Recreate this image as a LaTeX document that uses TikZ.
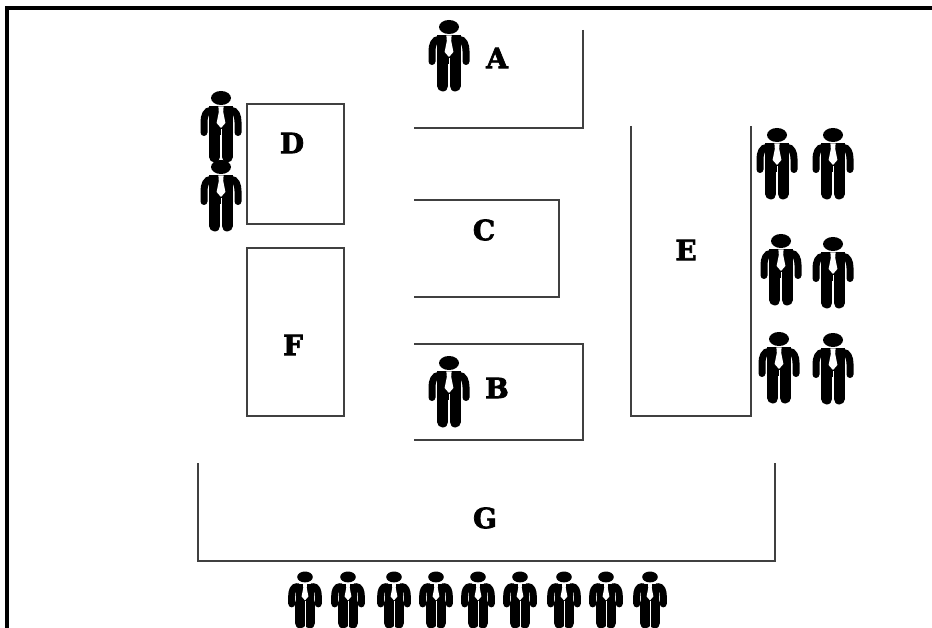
\documentclass[tikz,border=0pt]{standalone}
\usepackage{fontspec}
\setmainfont{DejaVu Serif}
\newfontfamily\labfont[BoldFont=* Bold,BoldFeatures={FakeBold=2.5}]{DejaVu Serif}
\tikzset{
  x=1pt,y=-1pt,
  frameline/.style={black,line width=3.2pt},
  wall/.style={draw=black!75,line width=1.4pt},
  lab/.style={font=\fontsize{28}{28}\labfont\bfseries,text=black,inner sep=0pt},
  person/.pic={
    \fill[black] (0,7) ellipse [x radius=10,y radius=7];
    % shoulders and torso
    \fill[black] (-12,15.5) -- (12,15.5) -- (12,44) -- (-12,44) -- cycle;
    % arms
    \draw[black,line width=7pt,line cap=round] (-10,19.3) .. controls (-15,19.5) and (-17,25) .. (-17,31) -- (-17,41.5);
    \draw[black,line width=7pt,line cap=round] (10,19.3) .. controls (15,19.5) and (17,25) .. (17,31) -- (17,41.5);
    % legs
    \draw[black,line width=11pt,line cap=round] (-6.1,40) -- (-6.1,66);
    \draw[black,line width=11pt,line cap=round] (6.1,40) -- (6.1,66);
    % tie and slit
    \fill[white] (-2.6,15.5) -- (2.6,15.5) -- (2.2,21) -- (4.4,32) -- (0,37) -- (-4.4,32) -- (-2.2,21) -- cycle;
    \fill[white] (-0.5,38) rectangle (0.5,71);
  }
}
\begin{document}
\begin{tikzpicture}
\useasboundingbox[fill=white] (0,0) rectangle (932,628);
\draw[frameline] (7,628) -- (7,8) -- (932,8);
\draw[wall] (247,104) rectangle (344,224);
\draw[wall] (247,248) rectangle (344,416);
\draw[wall] (583,30) -- (583,128) -- (414,128);
\draw[wall] (414,200) -- (559,200) -- (559,297) -- (414,297);
\draw[wall] (414,344) -- (583,344) -- (583,440) -- (414,440);
\draw[wall] (631,126) -- (631,416) -- (751,416) -- (751,126);
\draw[wall] (198,463) -- (198,561) -- (775,561) -- (775,463);
\node[lab] (A) at (497,58) {A};
\node[lab] (B) at (497,388) {B};
\node[lab] (C) at (484,230) {C};
\node[lab] (D) at (292,143) {D};
\node[lab] (E) at (686,250) {E};
\node[lab] (F) at (293,345) {F};
\node[lab] (G) at (485,518) {G};
\pic at (449,20) {person};
\pic at (221,91) {person};
\pic at (221,160) {person};
\pic at (449,356) {person};
\pic at (777,128) {person};
\pic at (833,128) {person};
\pic at (781,234) {person};
\pic at (833,237) {person};
\pic at (779,332) {person};
\pic at (833,333) {person};
\foreach \px in {305,348,394,436,478,520,564,606,650}
  \pic[scale=0.78] at (\px,571.5) {person};
\end{tikzpicture}
\end{document}
